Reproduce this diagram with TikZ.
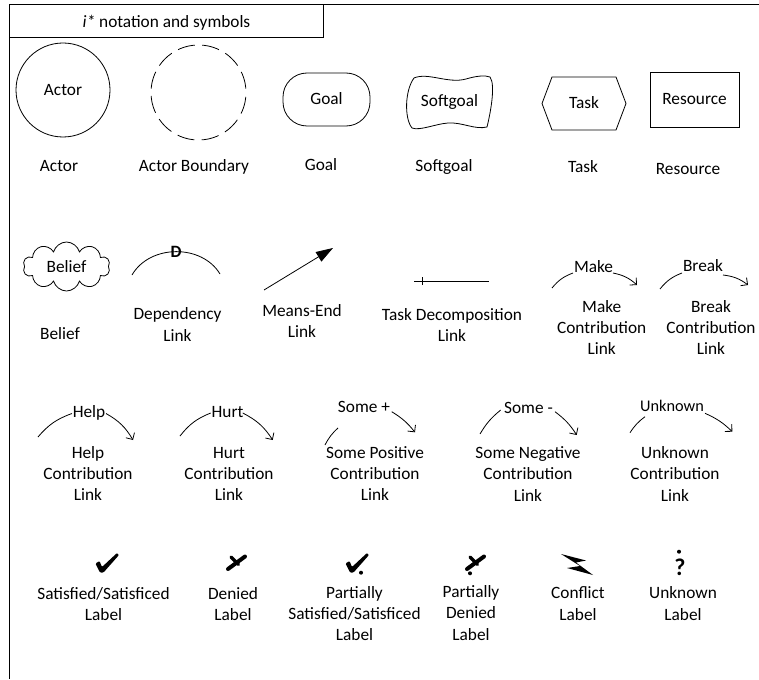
\documentclass[tikz,border=0pt]{standalone}
\usepackage{fontspec}
\setmainfont{Carlito}
\usetikzlibrary{shapes.symbols,arrows.meta,calc}
\begin{document}
\begin{tikzpicture}[x=1pt,y=-1pt,
  every node/.style={font=\fontsize{17.3}{21.2}\selectfont, inner sep=0pt},
  lbl/.style={anchor=base, align=center},
  shp/.style={draw, line width=0.8pt, text height=11pt, text depth=0pt},
  ln/.style={line width=0.8pt},
  contrib/.style={line width=0.8pt, -{Straight Barb[length=5pt,width=10pt]}},
  chk/.pic={\fill[rounded corners=1pt] (-6,-8) -- (-2,-10.5) -- (0.5,-4.5) -- (15.5,-18.5) -- (17.5,-16.5) -- (2,1) -- (-1.5,1) -- cycle;},
  den/.pic={\draw[line width=4pt, line cap=round] (-9,6) -- (8,-6.5);
            \draw[line width=3.5pt, line cap=round] (-6,-6) -- (1.5,1.5);},
]
\useasboundingbox (0,0) rectangle (759,679);
% frame and title
\draw[line width=1pt] (759,4.5) -- (9,4.5) -- (9,679);
\node[draw, line width=1pt, minimum width=314pt, minimum height=33pt, anchor=north west, text height=12pt, text depth=0pt] (title) at (9,4.5) {\textit{i*} notation and symbols};

% row 1
\node[shp, circle, minimum size=94pt] (actor) at (63,90) {Actor};
\node[draw, circle, line width=0.8pt, dash pattern=on 17.5pt off 7.3pt, dash phase=21pt, minimum size=95pt] (boundary) at (198.5,92.5) {};
\node[shp, rounded corners=24pt, minimum width=87pt, minimum height=53pt] (goal) at (326.5,99.5) {Goal};
\node[text height=11pt, text depth=0pt] (soft) at (449.5,101.5) {Softgoal};
\draw[ln] (414,78) .. controls (428,72) and (448,84) .. (466,79) .. controls (476,76) and (485,75) .. (490,77)
  .. controls (496,85) and (490,115) .. (487,127)
  .. controls (475,130) and (462,122) .. (448,123) .. controls (435,124) and (420,131) .. (412,128)
  .. controls (404,118) and (405,90) .. (414,78) -- cycle;
\node[text height=11pt, text depth=0pt] (task) at (584,103.5) {Task};
\draw[ln] ($(task)+(-42,0)$) -- ($(task)+(-32,-26.5)$) -- ($(task)+(32,-26.5)$) -- ($(task)+(42,0)$) -- ($(task)+(32,26.5)$) -- ($(task)+(-32,26.5)$) -- cycle;
\node[shp, minimum width=89pt, minimum height=55pt] (res) at (694.5,99.5) {Resource};

\node[lbl] (l-actor) at (59,171.7) {Actor};
\node[lbl] (l-bound) at (194,171.7) {Actor Boundary};
\node[lbl] (l-goal) at (321,170) {Goal};
\node[lbl] (l-soft) at (444,171.7) {Softgoal};
\node[lbl] (l-task) at (583,172.7) {Task};
\node[lbl] (l-res) at (688,175) {Resource};

% row 2
\node[shp, cloud, cloud puffs=10, aspect=1.8, minimum width=87pt, minimum height=49pt] (belief) at (66.5,266.5) {Belief};
\node[lbl] (l-belief) at (60,339) {Belief};

\coordinate (dep1) at (132,275);
\coordinate (dep2) at (220,274);
\draw[ln] (dep1) .. controls (150,244) and (202,244) .. (dep2);
\node[anchor=base, font=\fontsize{17.3}{21.2}\selectfont\bfseries] (D) at (176,257.7) {D};
\node[lbl] (l-dep) at (177.5,341) {Dependency\\Link};

\coordinate (me1) at (264,290);
\coordinate (me2) at (333,248);
\draw[ln, -{Triangle[length=17pt,width=11pt]}] (me1) -- (me2);
\node[lbl] (l-me) at (302,337.5) {Means-End\\Link};

\coordinate (td1) at (414,281);
\coordinate (td2) at (489,281);
\coordinate (tdk) at (422,281);
\draw[ln] (td1) -- (td2);
\draw[ln] ($(tdk)+(0,-4)$) -- ($(tdk)+(0,4)$);
\node[lbl] (l-td) at (452,341.5) {Task Decomposition\\Link};

\node[anchor=base] (mk) at (593.5,272.3) {Make};
\coordinate (mk1) at (552,288);
\coordinate (mk2) at (573,273);
\coordinate (mk3) at (613,273);
\coordinate (mk4) at (637,285);
\draw[ln] (mk1) to[bend left=15] (mk2);
\draw[contrib] (mk3) to[bend left=15] (mk4);
\node[lbl] (l-mk) at (601.7,354.5) {Make\\Contribution\\Link};

\node[anchor=base] (bk) at (703,271.7) {Break};
\coordinate (bk1) at (660,289);
\coordinate (bk2) at (682,273);
\coordinate (bk3) at (723,275);
\coordinate (bk4) at (748,285);
\draw[ln] (bk1) to[bend left=15] (bk2);
\draw[contrib] (bk3) to[bend left=15] (bk4);
\node[lbl] (l-bk) at (711,354.5) {Break\\Contribution\\Link};

% row 3
\node[anchor=base] (hp) at (89,417.7) {Help};
\coordinate (hp1) at (38,437);
\coordinate (hp2) at (72,413.5);
\coordinate (hp3) at (106,413.5);
\coordinate (hp4) at (133,440);
\draw[ln] (hp1) to[bend left=15] (hp2);
\draw[contrib] (hp3) to[bend left=15] (hp4);
\node[lbl] (l-hp) at (88,500.5) {Help\\Contribution\\Link};

\node[anchor=base] (hu) at (227.5,417.7) {Hurt};
\coordinate (hu1) at (180,436);
\coordinate (hu2) at (210.7,413);
\coordinate (hu3) at (242.7,413);
\coordinate (hu4) at (272.7,440);
\draw[ln] (hu1) to[bend left=15] (hu2);
\draw[contrib] (hu3) to[bend left=15] (hu4);
\node[lbl] (l-hu) at (229,500.5) {Hurt\\Contribution\\Link};

\node[anchor=base] (sp) at (364,412.7) {Some +};
\coordinate (sp1) at (325,445);
\coordinate (sp2) at (338,428);
\coordinate (sp3) at (391.7,411.7);
\coordinate (sp4) at (415,432.3);
\draw[ln] (sp1) to[bend left=10] (sp2);
\draw[contrib] (sp3) to[bend left=10] (sp4);
\node[lbl] (l-sp) at (375,500.5) {Some Positive\\Contribution\\Link};

\node[anchor=base] (sn) at (528.5,413.3) {Some -};
\coordinate (sn1) at (480,434);
\coordinate (sn2) at (500.7,410);
\coordinate (sn3) at (555,411.7);
\coordinate (sn4) at (576.7,435);
\draw[ln] (sn1) to[bend left=10] (sn2);
\draw[contrib] (sn3) to[bend left=10] (sn4);
\node[lbl] (l-sn) at (528,501) {Some Negative\\Contribution\\Link};

\node[anchor=base, font=\fontsize{16.3}{19}\selectfont] (un) at (672,411.7) {Unknown};
\coordinate (un1) at (630,432.7);
\coordinate (un2) at (645,416.7);
\coordinate (un3) at (705,413.3);
\coordinate (un4) at (732.3,431.7);
\draw[ln] (un1) to[bend left=10] (un2);
\draw[contrib] (un3) to[bend left=10] (un4);
\node[lbl] (l-un) at (675,501) {Unknown\\Contribution\\Link};

% row 4
\pic (ic-sat) at (101.5,571.5) {chk};
\node[lbl] (l-sat) at (103.5,620.3) {Satisfied/Satisficed\\Label};

\pic (ic-den) at (237,563) {den};
\node[lbl] (l-den) at (233,620.3) {Denied\\Label};

\pic (ic-psat) at (351.5,571.5) {chk};
\node[circle, fill, minimum size=4pt] (dot-psat) at (361,572.7) {};
\node[lbl] (l-psat) at (354.5,640.5) {Partially\\Satisfied/Satisficed\\Label};

\pic (ic-pden) at (476,563) {den};
\node[circle, fill, minimum size=4pt] (dot-pden) at (470,573.3) {};
\node[lbl] (l-pden) at (471,640) {Partially\\Denied\\Label};

\fill (561,554) -- (586,560.5) -- (576,562.5) -- (593,575) -- (567,568) -- (580,566) -- cycle;
\node[lbl] (l-con) at (578,620) {Conflict\\Label};

\node[anchor=base, font=\fontsize{24}{24}\selectfont\bfseries] (q) at (680,575) {?};
\node[circle, fill, minimum size=4pt] (dot-q) at (679,551.7) {};
\node[lbl] (l-unk) at (683,620) {Unknown\\Label};
\end{tikzpicture}
\end{document}
